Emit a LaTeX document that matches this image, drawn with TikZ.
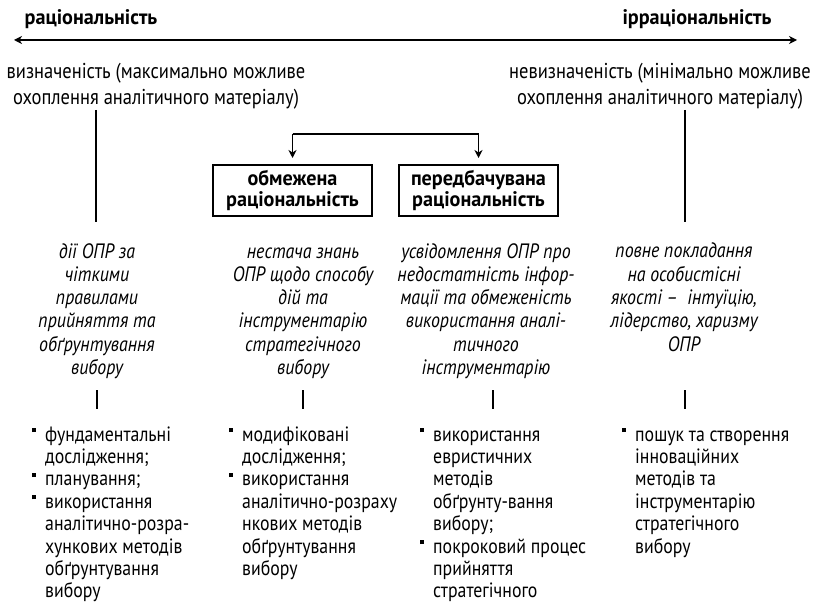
\documentclass[tikz,border=0pt]{standalone}
\usepackage{fontspec}
\setmainfont{PT Sans}[FakeStretch=0.86]
\newfontfamily\heavy{PT Sans}[FakeStretch=0.96]
\usetikzlibrary{arrows.meta}
% small square bullet hung to the left of a list line
\newcommand\bsq{\llap{\rule[8.8pt]{4.5pt}{4.5pt}\hspace{9pt}}}
\begin{document}
\begin{tikzpicture}[x=1pt,y=-1pt,
  % multi-line nodes are placed by the baseline of their last line
  ttl/.style={font=\heavy\bfseries\fontsize{21}{24}\selectfont, inner sep=0, anchor=base},
  pole/.style={font=\fontsize{21.5}{26}\selectfont, align=center, inner sep=0, anchor=base},
  cause/.style={font=\itshape\fontsize{20.8}{23.3}\selectfont, align=center, inner sep=0, anchor=base},
  tools/.style={font=\fontsize{20.7}{22.4}\selectfont, align=left, inner sep=0, anchor=base west},
  kind/.style={draw, line width=2pt, font=\heavy\bfseries\fontsize{21}{21}\selectfont, align=center,
    inner sep=0, minimum width=159pt, minimum height=51pt},
  link/.style={line width=1.4pt},
  tip/.style={-{Stealth[length=8pt,width=8pt,inset=2.5pt]}}
]
\useasboundingbox (0,0) rectangle (813,609);

% scale ends
\node[ttl] (rat) at (91,25) {раціональність};
\node[ttl] (irr) at (697,25) {ірраціональність};
\coordinate (sl) at (14,40);
\coordinate (sr) at (797,40);
\draw[link, line width=1.3pt, {Stealth[length=8pt,width=8pt,inset=2.5pt]}-{Stealth[length=8pt,width=8pt,inset=2.5pt]}] (sl) -- (sr);

\node[pole] (def) at (156,105) {визначеність (максимально можливе\\охоплення аналітичного матеріалу)};
\node[pole] (ndef) at (660,105) {невизначеність (мінімально можливе\\охоплення аналітичного матеріалу)};

% intermediate kinds of rationality
\node[kind] (lim) at (292.5,190.5) {обмежена\\раціональність};
\node[kind] (pred) at (478.5,190.5) {передбачувана\\раціональність};
\coordinate (br) at (380,134);
\draw[link, line width=1.3pt, tip] (lim.north |- br) -- ([yshift=6pt]lim.north);
\draw[link, line width=1.3pt, tip] (pred.north |- br) -- ([yshift=6pt]pred.north);
\draw[link, line width=1.3pt] (lim.north |- br) -- (pred.north |- br);

% characteristics of each level
\node[cause] (c1) at (97,374.5) {дії ОПР за\\чіткими\\правилами\\прийняття та\\обґрунтування\\вибору};
\node[cause] (c2) at (303,374.5) {нестача знань\\ОПР щодо способу\\дій та\\інструментарію\\стратегічного\\вибору};
\node[cause] (c3) at (486,374.5) {усвідомлення ОПР про\\недостатність інфор-\\мації та обмеженість\\використання аналі-\\тичного\\інструментарію};
\node[cause] (c4) at (684,351.2) {повне покладання\\на особистісні\\якості –\ \ інтуїцію,\\лідерство, харизму\\ОПР};

\coordinate (u1a) at (96,110);  \coordinate (u1b) at (96,222);
\coordinate (u4a) at (685,110); \coordinate (u4b) at (685,222);
\draw[link] (u1a) -- (u1b);
\draw[link] (u4a) -- (u4b);

% methods and tools
\node[tools] (t1) at (45,597.8) {\bsq фундаментальні\\дослідження;\\\bsq планування;\\\bsq використання\\аналітично-розра-\\хункових методів\\обґрунтування\\вибору};
\node[tools] (t2) at (242,575.4) {\bsq модифіковані\\дослідження;\\\bsq використання\\аналітично-розраху\\нкових методів\\обґрунтування\\вибору};
\node[tools] (t3) at (433,597.8) {\bsq використання\\евристичних\\методів\\обґрунту-вання\\вибору;\\\bsq покроковий процес\\прийняття\\стратегічного};
\node[tools] (t4) at (635,553) {\bsq пошук та створення\\інноваційних\\методів та\\інструментарію\\стратегічного\\вибору};

\foreach \x/\n in {97/1,303/2,493/3,685/4}{
  \coordinate (d\n a) at (\x,390);
  \coordinate (d\n b) at (\x,409);
  \draw[link] (d\n a) -- (d\n b);
}
\end{tikzpicture}
\end{document}
